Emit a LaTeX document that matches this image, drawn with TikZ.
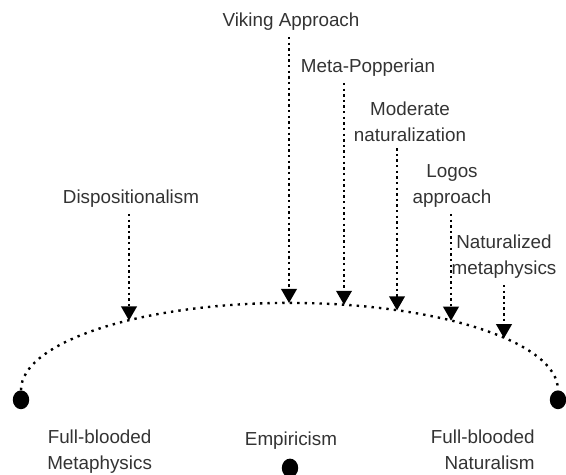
\documentclass[tikz,border=0pt]{standalone}
\usepackage{fontspec}
\setmainfont{Liberation Sans}
\usetikzlibrary{arrows.meta, shapes.geometric}
\definecolor{textgray}{RGB}{51,51,51}

\begin{document}
\begin{tikzpicture}[
  lbl/.style={text=textgray, font=\fontsize{13.4}{18.5}\selectfont, inner sep=4.5pt, align=center},
  dotarrow/.style={line width=1.7pt, dash pattern=on 1.7pt off 2.3pt, -{Triangle[width=11pt,length=10pt]}},
  dotcurve/.style={line width=1.7pt, dash pattern=on 1.7pt off 3.6pt},
  enddot/.style={ellipse, fill=black, minimum width=0.41cm, minimum height=0.47cm, inner sep=0pt}
]
\useasboundingbox (0,0) rectangle (14.15,11.875);

% ends of the scale
\node[enddot] (metadot) at (0.525,1.88) {};
\node[enddot] (natdot) at (13.95,1.88) {};
\node[enddot] (empdot) at (7.25,0.175) {};
\node[lbl, anchor=north] (metaphysics) at (2.49,1.3) {Full-blooded\\Metaphysics};
\node[lbl, anchor=base] (empiricism) at (7.275,0.725) {Empiricism};
\node[lbl, align=right, anchor=north east] (naturalism) at (13.53,1.3) {Full-blooded\\Naturalism};

% the arc
\draw[dotcurve] (metadot.north) arc[start angle=180, end angle=0, x radius=6.7125, y radius=2.18];

% where the approaches land
\coordinate (tDisp) at (3.225,3.862);
\coordinate (tViking) at (7.225,4.300);
\coordinate (tMeta) at (8.6,4.254);
\coordinate (tModerate) at (9.925,4.115);
\coordinate (tLogos) at (11.275,3.856);
\coordinate (tNatmeta) at (12.6,3.419);

% approaches
\node[lbl, anchor=south] (disp) at (3.275,6.525) {Dispositionalism};
\node[lbl, anchor=south] (viking) at (7.275,10.95) {Viking Approach};
\node[lbl, anchor=south] (meta) at (9.2,9.8) {Meta-Popperian};
\node[lbl, anchor=south] (moderate) at (10.25,8.17) {Moderate\\naturalization};
\node[lbl, anchor=south] (logos) at (11.3,6.525) {Logos\\approach};
\node[lbl, anchor=south] (natmeta) at (12.6,4.75) {Naturalized\\metaphysics};

\foreach \a/\t in {disp/tDisp, viking/tViking, meta/tMeta, moderate/tModerate, logos/tLogos, natmeta/tNatmeta}
  \draw[dotarrow] (\a.south -| \t) -- (\t);
\end{tikzpicture}
\end{document}
